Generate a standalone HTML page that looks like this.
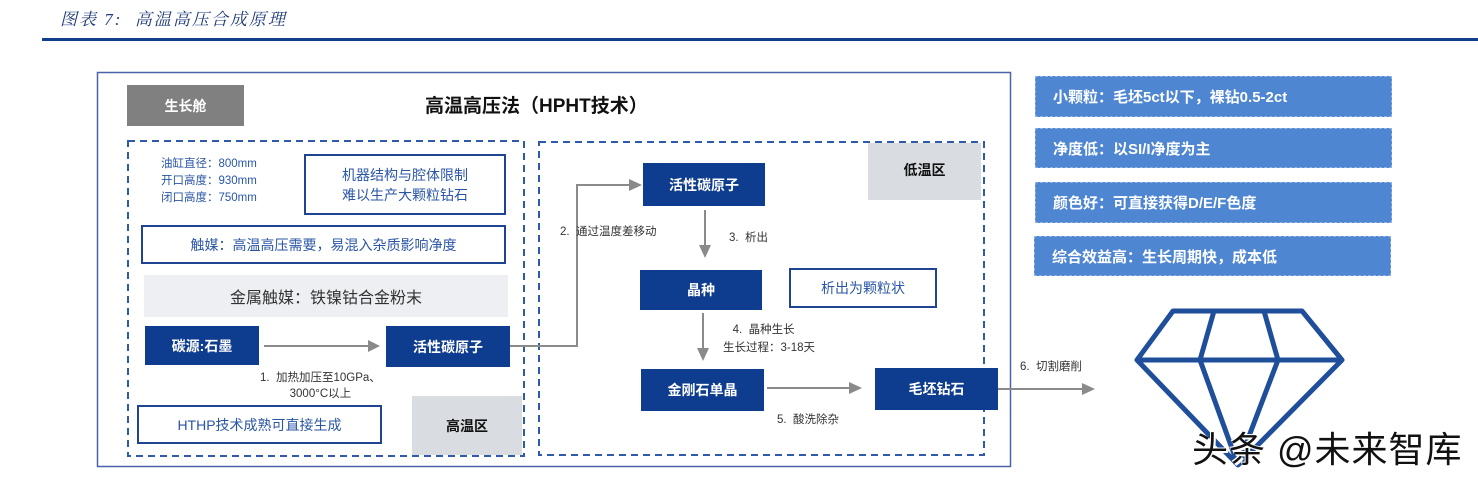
<!DOCTYPE html>
<html><head><meta charset="utf-8"><style>
*{margin:0;padding:0;box-sizing:border-box}
body{width:1478px;height:482px;background:#fff;position:relative;overflow:hidden;font-family:"Liberation Sans","Noto Sans CJK SC",sans-serif}
.a{position:absolute}
.c{display:flex;align-items:center;justify-content:center;text-align:center}
.db{background:#0E3C8E;color:#fff;font-size:14px;font-weight:bold}
.ob{border:2px solid #1F4592;color:#2A56A6;font-size:14px}
.rb{background:#4E86D2;color:#fff;font-size:15px;font-weight:bold;padding-left:17px;display:flex;align-items:center;border:1px dashed #8fb2e3}
.lb{font-size:11.5px;color:#333}
</style></head><body>
<div class="a" style="left:60px;top:5px;font-size:17px;letter-spacing:2px;font-style:italic;color:#1F3A7A;font-family:'Liberation Serif','Noto Serif CJK SC',serif">图表 7:&nbsp; 高温高压合成原理</div>
<div class="a" style="left:42px;top:38px;width:1436px;height:3px;background:#123F8C"></div>
<svg class="a" style="left:0;top:0" width="1478" height="482">
<rect x="97.5" y="72.5" width="913" height="394" fill="none" stroke="#4A63A8" stroke-width="1.5"/>
<rect x="128" y="141" width="396" height="315" fill="none" stroke="#2F5AAA" stroke-width="2" stroke-dasharray="7,5"/>
<rect x="539" y="142" width="445" height="313" fill="none" stroke="#2F5AAA" stroke-width="2" stroke-dasharray="7,5"/>
<g stroke="#8a8a8a" stroke-width="2" fill="none">
<line x1="264" y1="346" x2="370" y2="346"/>
<polyline points="510,346 577,346 577,185 630,185"/>
<line x1="705" y1="210" x2="705" y2="248"/>
<line x1="703" y1="313" x2="703" y2="351"/>
<line x1="767" y1="388" x2="850" y2="388"/>
<line x1="998" y1="389" x2="1082" y2="389"/>
</g>
<g fill="#8a8a8a">
<polygon points="380,346 368,340 368,352"/>
<polygon points="642,185 629,179 629,191"/>
<polygon points="705,258 699,245 711,245"/>
<polygon points="703,361 697,348 709,348"/>
<polygon points="862,388 849,382 849,394"/>
<polygon points="1095,389 1082,383 1082,395"/>
</g>
<g stroke="#1F4E9A" stroke-width="5" fill="none" stroke-linejoin="round">
<polygon points="1173,311 1302,311 1342,360 1238,465 1137,360"/>
<line x1="1137" y1="360" x2="1342" y2="360"/>
<line x1="1214" y1="311" x2="1200" y2="360"/>
<line x1="1264" y1="311" x2="1278" y2="360"/>
<line x1="1200" y1="360" x2="1238" y2="465"/>
<line x1="1278" y1="360" x2="1238" y2="465"/>
</g>
</svg>
<div class="a c" style="left:127px;top:85px;width:117px;height:41px;background:#808080;color:#fff;font-size:14px;font-weight:bold">生长舱</div>
<div class="a" style="left:425px;top:91px;font-size:19px;font-weight:bold;color:#111">高温高压法（HPHT技术）</div>
<div class="a" style="left:161px;top:156px;font-size:11.5px;line-height:17px;color:#2A56A6">油缸直径：800mm<br>开口高度：930mm<br>闭口高度：750mm</div>
<div class="a c ob" style="left:304px;top:154px;width:202px;height:61px;line-height:20px">机器结构与腔体限制<br>难以生产大颗粒钻石</div>
<div class="a c ob" style="left:141px;top:225px;width:365px;height:39px">触媒：高温高压需要，易混入杂质影响净度</div>
<div class="a c" style="left:144px;top:275px;width:364px;height:42px;background:#EEEFF2;font-size:16px;color:#333">金属触媒：铁镍钴合金粉末</div>
<div class="a c db" style="left:145px;top:326px;width:114px;height:39px">碳源:石墨</div>
<div class="a c db" style="left:386px;top:326px;width:124px;height:41px">活性碳原子</div>
<div class="a lb" style="left:260px;top:370px;line-height:16px;text-align:center">1.&nbsp; 加热加压至10GPa、<br>3000°C以上</div>
<div class="a c ob" style="left:137px;top:405px;width:245px;height:39px">HTHP技术成熟可直接生成</div>
<div class="a c" style="left:412px;top:396px;width:110px;height:59px;background:#D9DCE1;font-size:14px;font-weight:bold;color:#111">高温区</div>
<div class="a c db" style="left:643px;top:163px;width:122px;height:43px">活性碳原子</div>
<div class="a c" style="left:868px;top:143px;width:113px;height:57px;background:#D9DCE1;font-size:14px;font-weight:bold;color:#111;padding-bottom:4px">低温区</div>
<div class="a lb" style="left:560px;top:223px">2.&nbsp; 通过温度差移动</div>
<div class="a lb" style="left:729px;top:229px">3.&nbsp; 析出</div>
<div class="a c db" style="left:640px;top:270px;width:122px;height:40px">晶种</div>
<div class="a c ob" style="left:789px;top:268px;width:148px;height:40px">析出为颗粒状</div>
<div class="a lb" style="left:723px;top:321px;line-height:18px">&nbsp;&nbsp;&nbsp;4.&nbsp; 晶种生长<br>生长过程：3-18天</div>
<div class="a c db" style="left:641px;top:369px;width:123px;height:42px">金刚石单晶</div>
<div class="a c db" style="left:875px;top:368px;width:123px;height:42px">毛坯钻石</div>
<div class="a lb" style="left:777px;top:411px">5.&nbsp; 酸洗除杂</div>
<div class="a lb" style="left:1020px;top:358px">6.&nbsp; 切割磨削</div>
<div class="a rb" style="left:1035px;top:76px;width:357px;height:41px">小颗粒：毛坯5ct以下，裸钻0.5-2ct</div>
<div class="a rb" style="left:1035px;top:128px;width:357px;height:40px">净度低：以SI/I净度为主</div>
<div class="a rb" style="left:1035px;top:182px;width:357px;height:41px">颜色好：可直接获得D/E/F色度</div>
<div class="a rb" style="left:1034px;top:236px;width:357px;height:40px">综合效益高：生长周期快，成本低</div>
<div class="a" style="left:1192px;top:421px;font-size:36px;letter-spacing:1px;color:#111;white-space:nowrap;text-shadow:-1px -1px 0 #fff,1px 1px 0 #fff,2px 2px 0 #fff">头条 @未来智库</div>
</body></html>
